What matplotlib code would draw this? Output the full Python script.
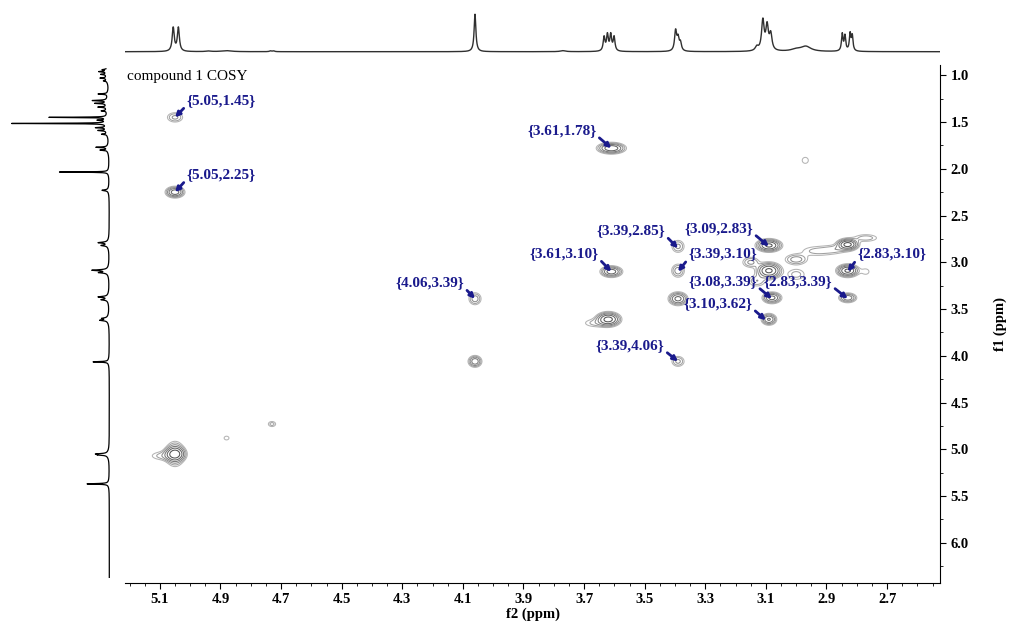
import numpy as np
import matplotlib.pyplot as plt

# COSY spectrum, compound 1

# cross peaks: f2 (ppm), f1 (ppm), intensity, half extent of outer contour in f2 and f1 (ppm)
cp_f2  = [5.05, 5.05, 5.05, 5.09, 5.05, 5.05, 4.88, 4.73, 4.06, 4.06, 3.61, 3.61, 3.62, 3.665,
          3.39, 3.39, 3.39, 3.39, 3.09, 3.09, 3.15, 3.13, 3.08, 3.09, 2.83, 3.00, 2.93, 2.77,
          2.83, 2.83, 2.77, 2.97, 3.00, 2.87]
cp_f1  = [1.45, 2.25, 5.05, 5.07, 4.96, 5.14, 4.88, 4.73, 3.39, 4.06, 1.78, 3.10, 3.61, 3.65,
          2.83, 3.09, 3.39, 4.06, 2.82, 3.09, 3.00, 3.20, 3.38, 3.61, 2.81, 2.97, 2.88, 2.74,
          3.09, 3.38, 3.10, 1.91, 3.13, 2.86]
cp_amp = [0.30, 0.90, 1.50, 0.20, 0.15, 0.15, 0.14, 0.20, 0.35, 0.60, 1.00, 0.90, 1.30, 0.18,
          0.30, 0.35, 0.80, 0.30, 1.20, 1.20, 0.30, 0.25, 0.80, 0.70, 1.30, 0.35, 0.20, 0.22,
          1.20, 0.60, 0.13, 0.13, 0.20, 0.18]
cp_hx  = [0.025, 0.033, 0.040, 0.035, 0.015, 0.015, 0.008, 0.012, 0.020, 0.023, 0.050, 0.038, 0.045, 0.030,
          0.020, 0.021, 0.033, 0.020, 0.046, 0.046, 0.026, 0.026, 0.033, 0.026, 0.040, 0.036, 0.045, 0.035,
          0.040, 0.030, 0.010, 0.010, 0.026, 0.030]
cp_hy  = [0.050, 0.064, 0.100, 0.040, 0.040, 0.040, 0.020, 0.027, 0.064, 0.064, 0.064, 0.064, 0.085, 0.035,
          0.064, 0.070, 0.075, 0.053, 0.075, 0.096, 0.053, 0.053, 0.064, 0.064, 0.070, 0.055, 0.045, 0.035,
          0.075, 0.053, 0.027, 0.032, 0.053, 0.035]

# f2 projection (top): shift, height, half width
f2_pk   = [5.056, 5.039, 4.94, 4.88, 4.735, 4.725, 4.06, 3.77, 3.634, 3.623, 3.612, 3.601,
           3.398, 3.39, 3.382, 3.13, 3.110, 3.096, 3.084, 3.00, 2.968, 2.848, 2.839, 2.822, 2.815]
f2_h    = [23.7, 23.7, 0.6, 1.0, 0.8, 0.8, 37.5, 1.0, 14, 16, 16, 14,
           20, 12, 8, 4, 30, 24, 16, 2, 5, 17, 15, 17, 15]
f2_w    = [0.004, 0.004, 0.01, 0.02, 0.004, 0.004, 0.0035, 0.01, 0.0035, 0.0035, 0.0035, 0.0035,
           0.004, 0.004, 0.004, 0.006, 0.005, 0.005, 0.005, 0.02, 0.02, 0.003, 0.003, 0.003, 0.003]

# f1 projection (left)
f1_pk   = [0.94, 0.96, 0.99, 1.03, 1.06, 1.20, 1.27, 1.30, 1.34, 1.38, 1.45, 1.48, 1.515,
           1.56, 1.59, 1.63, 1.77, 1.80, 2.035, 2.23, 2.79, 2.82, 3.085, 3.11, 3.37, 3.40,
           3.60, 3.62, 4.065, 5.05, 5.06, 5.37]
f1_h    = [4, 7, 5, 6, 3, 9, 14, 11, 8, 5, 57, 8, 97,
           10, 8, 5, 11, 7, 50, 6, 9, 6, 15, 8, 9, 6,
           5, 7, 15, 10, 8, 21]
f1_w    = [0.004, 0.004, 0.004, 0.004, 0.004, 0.004, 0.004, 0.004, 0.004, 0.004, 0.0025, 0.004, 0.0025,
           0.004, 0.004, 0.004, 0.004, 0.004, 0.0025, 0.006, 0.006, 0.006, 0.006, 0.006, 0.006, 0.006,
           0.006, 0.006, 0.004, 0.005, 0.005, 0.004]

# labelled cross peaks
ann_txt = ['{5.05,1.45}', '{5.05,2.25}', '{3.61,1.78}', '{4.06,3.39}', '{3.61,3.10}', '{3.39,2.85}',
           '{3.09,2.83}', '{3.39,3.10}', '{3.08,3.39}', '{2.83,3.39}', '{3.10,3.62}', '{2.83,3.10}',
           '{3.39,4.06}']
ann_xy  = [(5.05, 1.45), (5.05, 2.25), (3.61, 1.78), (4.06, 3.39), (3.61, 3.10), (3.39, 2.85),
           (3.09, 2.83), (3.39, 3.10), (3.08, 3.39), (2.83, 3.39), (3.10, 3.62), (2.83, 3.10),
           (3.39, 4.06)]
ann_pos = [(4.898, 1.267), (4.898, 2.059), (3.773, 1.588), (4.209, 3.214), (3.766, 2.904), (3.545, 2.658),
           (3.255, 2.636), (3.242, 2.904), (3.242, 3.203), (2.994, 3.203), (3.258, 3.439), (2.684, 2.904),
           (3.548, 3.888)]
ann_side = [0, 0, 1, 1, 1, 1, 1, 0, 1, 1, 1, 0, 1]

x_lim = (5.215, 2.525)
y_lim = (6.43, 0.89)

def lor(x, c, h, w):
    return h / (1 + ((x - c) / w) ** 2)

# 2D map
lev0 = 0.1
gx = np.linspace(x_lim[0], x_lim[1], 1100)
gy = np.linspace(y_lim[1], y_lim[0], 800)
GX, GY = np.meshgrid(gx, gy)
Z = np.zeros_like(GX)
for f2, f1, a, hx, hy in zip(cp_f2, cp_f1, cp_amp, cp_hx, cp_hy):
    k = np.sqrt(2 * np.log(a / lev0))
    sx, sy = hx / k, hy / k
    Z += a * np.exp(-0.5 * (((GX - f2) / sx) ** 2 + ((GY - f1) / sy) ** 2))

levels = lev0 * 1.6 ** np.arange(7)
cols = ['#b4b4b4', '#a0a0a0', '#8c8c8c', '#787878', '#646464', '#505050', '#404040']

serif = 'Liberation Serif'
blue = '#1a1a8c'

fig = plt.figure(figsize=(10.1, 6.31), dpi=100)
ax = fig.add_axes([0.1238, 0.0761, 0.807, 0.8209])
ax_top = fig.add_axes([0.1238, 0.9144, 0.807, 0.0697])
ax_left = fig.add_axes([0.005, 0.0761, 0.106, 0.8209])

ax.contour(GX, GY, Z, levels=levels, colors=cols, linewidths=0.75)
ax.set_xlim(*x_lim)
ax.set_ylim(*y_lim)

for s in ['top', 'left']:
    ax.spines[s].set_visible(False)
ax.yaxis.tick_right()
ax.yaxis.set_label_position('right')
ax.set_xticks(np.arange(5.1, 2.69, -0.2))
ax.set_xticks(np.arange(5.2, 2.52, -0.05), minor=True)
ax.set_yticks(np.arange(1.0, 6.01, 0.5))
ax.set_yticks(np.arange(1.0, 6.4, 0.25), minor=True)
ax.xaxis.set_major_formatter(plt.FormatStrFormatter('%.1f'))
ax.yaxis.set_major_formatter(plt.FormatStrFormatter('%.1f'))
ax.tick_params(which='major', length=4, width=0.8, direction='out')
ax.tick_params(which='minor', length=2, width=0.6, direction='out')
for t in ax.get_xticklabels() + ax.get_yticklabels():
    t.set_fontfamily(serif)
    t.set_fontweight('bold')
    t.set_fontsize(10.5)
ax.set_xlabel('f2 (ppm)', fontfamily=serif, fontweight='bold', fontsize=10.5, labelpad=1)
ax.set_ylabel('f1 (ppm)', fontfamily=serif, fontweight='bold', fontsize=10.5, labelpad=18)

ax.text(0.003, 0.977, 'compound 1 COSY', transform=ax.transAxes, fontfamily=serif,
        fontsize=11, va='center', ha='left')

for txt, xy, pos, sd in zip(ann_txt, ann_xy, ann_pos, ann_side):
    ax.annotate(txt, xy=xy, xytext=pos, textcoords='data', ha='center', va='center',
                fontfamily=serif, fontweight='bold', fontsize=11, color=blue,
                arrowprops=dict(arrowstyle='-|>', color=blue, lw=2.0, mutation_scale=7,
                                shrinkA=0, shrinkB=0, relpos=(sd, 0.1)))

# top projection
xs = np.linspace(x_lim[0], x_lim[1], 4000)
top = np.zeros_like(xs)
for c, h, w in zip(f2_pk, f2_h, f2_w):
    top += lor(xs, c, h, w)
ax_top.plot(xs, top, color='#303030', lw=1.0)
ax_top.set_xlim(*x_lim)
ax_top.set_ylim(-2.3, 41.7)
ax_top.axis('off')

# left projection
ys = np.linspace(0.93, 6.37, 5000)
side = np.full_like(ys, -1.2)
for c, h, w in zip(f1_pk, f1_h, f1_w):
    side += lor(ys, c, h, w) + lor(ys, c, 1.2, 0.04)
ax_left.plot(side, ys, color='k', lw=0.9)
ax_left.set_xlim(103, -4)
ax_left.set_ylim(*y_lim)
ax_left.axis('off')

fig.savefig('out.png', dpi=100)
